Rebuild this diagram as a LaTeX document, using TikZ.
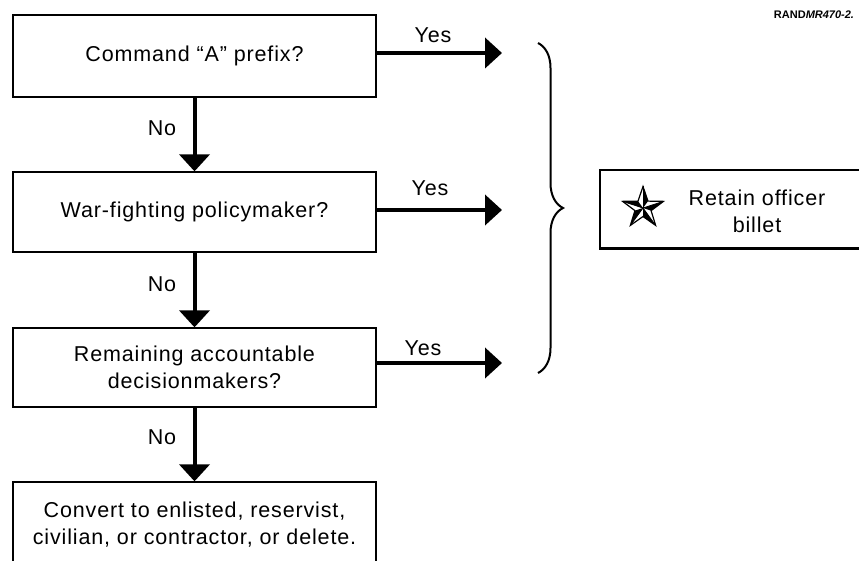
\documentclass[tikz,border=0pt]{standalone}
\usepackage{fontspec}
\newfontfamily\flowfont[LetterSpace=4]{Liberation Sans}
\newfontfamily\tagfont{Liberation Sans}
\usepackage{tikz}
\usetikzlibrary{decorations.pathreplacing}
\usetikzlibrary{arrows.meta}

\begin{document}
\begin{tikzpicture}[x=1pt,y=-1pt,
		every node/.style={font=\flowfont\fontsize{21.5}{27}\selectfont, align=center},
		qbox/.style={draw, line width=1.3pt, minimum width=363pt, inner sep=0pt},
		flow/.style={line width=4pt, -{Triangle[length=17pt,width=30pt]}}]
				\useasboundingbox (0,0) rectangle (859,561);
				\clip (0,0) rectangle (859,561);
				
				% question boxes
				\node[qbox, minimum height=82pt] (cmd)  at (194.5,56)  {Command “A” prefix?};
				\node[qbox, minimum height=80pt] (war)  at (194.5,212) {War-fighting policymaker?};
				\node[qbox, minimum height=79pt] (rem)  at (194.5,367.5) {Remaining accountable\\decisionmakers?};
				\node[qbox, minimum height=86pt] (conv) at (194.5,525) {Convert to enlisted, reservist,\\civilian, or contractor, or delete.};
				
				\draw[flow] (cmd) -- (war);
				\draw[flow] (war) -- (rem);
				\draw[flow] (rem) -- (conv);
				
				\node (no1) at (162,128) {No};
				\node (no2) at (162,284) {No};
				\node (no3) at (162,437) {No};
				
				% yes branches
				\coordinate (y1) at (502,53);
				\coordinate (y2) at (502,210);
				\coordinate (y3) at (502,363);
				\draw[flow] (cmd.east |- y1) -- (y1);
				\draw[flow] (war.east |- y2) -- (y2);
				\draw[flow] (rem.east |- y3) -- (y3);
				
				\node (yes1) at (433,35)  {Yes};
				\node (yes2) at (430,188) {Yes};
				\node (yes3) at (423,348) {Yes};
				
				\coordinate (br1) at (538,43);
				\coordinate (br2) at (538,373);
				\draw[line width=2pt, decorate, decoration={brace, amplitude=25pt}] (br1) -- (br2);
				
				% outcome
				\node[draw, line width=1.3pt, minimum width=280pt, minimum height=78pt] (ret) at (740,209) {};
				\draw[line width=3pt] (ret.south west) -- (ret.south east);
				\node (rettxt) at (757,211) {Retain officer\\billet};
				
				\coordinate (star) at (643,208);
				\foreach \k in {0,...,4}
					\fill[shift={(star)}] (-90+72*\k:21.5) -- (0,0) -- (-54+72*\k:8.5) -- cycle;
				\draw[line width=1.2pt, line join=miter, shift={(star)}]
					(-90:21.5) -- (-54:8.5) -- (-18:21.5) -- (18:8.5) -- (54:21.5) -- (90:8.5)
					-- (126:21.5) -- (162:8.5) -- (198:21.5) -- (234:8.5) -- cycle;
				\foreach \a in {-90,-18,54,126,198}
					\draw[line width=0.8pt, shift={(star)}] (0,0) -- (\a:21.5);
				
				\node[font=\tagfont\fontsize{11}{12}\selectfont] (tag) at (814,15) {\bfseries RAND\textit{MR470-2.}};
\end{tikzpicture}
\end{document}
